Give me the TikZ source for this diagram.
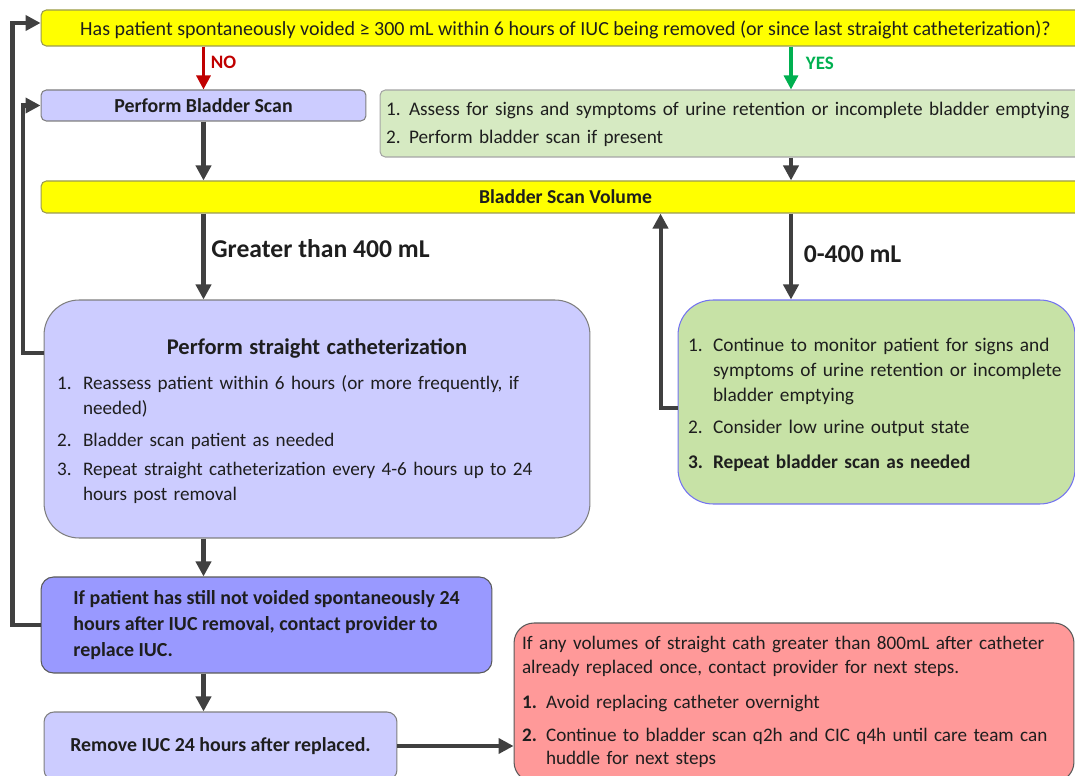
\documentclass[tikz,border=0pt]{standalone}
\usepackage{fontspec}
\setmainfont{Carlito}
\usepackage{array}
\usetikzlibrary{arrows.meta}

\definecolor{txt}{HTML}{1E1E1E}
\definecolor{qyellow}{HTML}{FFFF00}
\definecolor{qborder}{HTML}{9A9A50}
\definecolor{lav}{HTML}{CCCCFF}
\definecolor{boxgray}{HTML}{7F7F7F}
\definecolor{green1}{HTML}{D6EAC2}
\definecolor{green2}{HTML}{C7E2A6}
\definecolor{g2border}{HTML}{7373F0}
\definecolor{blue1}{HTML}{9999FF}
\definecolor{pink1}{HTML}{FF9999}
\definecolor{darkborder}{HTML}{595959}
\definecolor{flowgray}{HTML}{404040}
\definecolor{nored}{HTML}{C00000}
\definecolor{yesgreen}{HTML}{00B050}

\begin{document}
\begin{tikzpicture}[x=0.02cm, y=-0.02cm,
  every node/.style={font=\fontsize{10.9}{13}\selectfont, text=txt},
  box/.style={draw, line width=0.6pt, inner sep=0pt},
  flow/.style={draw=flowgray, line width=2.3pt, -{Triangle[length=0.3cm,width=0.3cm]}},
  answer/.style={line width=1.8pt, -{Triangle[length=0.28cm,width=0.28cm]}}]
\useasboundingbox (0,0) rectangle (1075,776);
\clip (0,0) rectangle (1075,776);

% questions
\node[box, draw=qborder, fill=qyellow, rounded corners=3pt, minimum width=20.98cm, minimum height=0.72cm, font=\fontsize{11.4}{13}\selectfont] (q) at (565.5,28)
  {\rule{0pt}{10pt}Has patient spontaneously voided ≥ 300 mL within 6 hours of IUC being removed (or since last straight catheterization)?};
\node[box, draw=boxgray, fill=lav, rounded corners=3pt, minimum width=6.5cm, minimum height=0.62cm, font=\bfseries\fontsize{11.3}{13}\selectfont] (pbs) at (203.5,105.5) {Perform Bladder Scan};
\node[box, draw=boxgray!70, fill=green1, rounded corners=3pt, minimum width=14.2cm, minimum height=1.34cm, text width=13.96cm, inner xsep=0.12cm, align=left, font=\fontsize{10.95}{13}\selectfont] (g1) at (735,123.5)
  {\begin{tabular}{@{}p{0.46cm}@{}l@{}}
   1. & \rule{0pt}{11pt}Assess for signs and symptoms of urine retention or incomplete bladder emptying\\[2.9pt]
   2. & Perform bladder scan if present
   \end{tabular}};
\node[box, draw=qborder, fill=qyellow, rounded corners=3pt, minimum width=20.98cm, minimum height=0.64cm, font=\bfseries\fontsize{11.2}{13}\selectfont] (bsv) at (565.5,197) {Bladder Scan Volume};

% results
\node[box, draw=boxgray, fill=lav, rounded corners=0.7cm, minimum width=10.92cm, minimum height=4.76cm, text width=10.4cm, inner xsep=0.26cm, align=left, font=\fontsize{10.9}{14.2}\selectfont] (psc) at (317,419)
  {\begin{tabular}{@{}p{0.52cm}@{}p{9.88cm}@{}}
   \multicolumn{2}{@{}c@{}}{\rule{0pt}{14pt}\bfseries\fontsize{12.8}{14}\selectfont Perform straight catheterization}\\[5.7pt]
   1. & Reassess patient within 6 hours (or more frequently, if\\
      & needed)\\[4.1pt]
   2. & Bladder scan patient as needed\\[2.5pt]
   3. & Repeat straight catheterization every 4-6 hours up to 24\\
      & hours post removal
   \end{tabular}};
\node[box, draw=g2border, fill=green2, rounded corners=0.7cm, minimum width=7.94cm, minimum height=4.08cm, text width=7.54cm, inner xsep=0.2cm, align=left, font=\fontsize{11}{14.2}\selectfont] (g2) at (876.5,402)
  {\begin{tabular}{@{}p{0.5cm}@{}l@{}}
   1. & \rule{0pt}{13.3pt}Continue to monitor patient for signs and\\
      & symptoms of urine retention or incomplete\\
      & bladder emptying\\[4pt]
   2. & Consider low urine output state\\[5.7pt]
   \textbf{3.} & \textbf{Repeat bladder scan as needed}
   \end{tabular}};
\node[box, draw=darkborder, fill=blue1, rounded corners=0.25cm, minimum width=9.02cm, minimum height=1.92cm, align=left, font=\bfseries\fontsize{11.35}{14.9}\selectfont] (iuc) at (266.5,625)
  {If patient has still not voided spontaneously 24\\hours after IUC removal, contact provider to\\replace IUC.};
\node[box, draw=boxgray, fill=lav, rounded corners=0.2cm, minimum width=7.06cm, minimum height=1.36cm, font=\bfseries\fontsize{11.3}{13}\selectfont] (rm) at (220.5,746) {Remove IUC 24 hours after replaced.};
\node[box, draw=darkborder, fill=pink1, rounded corners=0.4cm, minimum width=11.2cm, minimum height=3.18cm, text width=10.88cm, inner xsep=0.16cm, align=left, font=\fontsize{10.9}{13.3}\selectfont] (red) at (794,702.5)
  {\begin{tabular}{@{}p{0.48cm}@{}l@{}}
   \multicolumn{2}{@{}l@{}}{If any volumes of straight cath greater than 800mL after catheter}\\
   \multicolumn{2}{@{}l@{}}{already replaced once, contact provider for next steps.}\\[6.6pt]
   \textbf{1.} & Avoid replacing catheter overnight\\[5.5pt]
   \textbf{2.} & Continue to bladder scan q2h and CIC q4h until care team can\\
               & huddle for next steps
   \end{tabular}};

% connectors
\coordinate (ycol) at (791,0);
\coordinate (loopx) at ([xshift=-0.34cm]g2.west);
\draw[answer, draw=nored] (q.south -| pbs.south) -- (pbs.north)
  node[pos=0.36, right, text=nored, font=\bfseries\fontsize{10.8}{12}\selectfont]{NO};
\draw[answer, draw=yesgreen] (q.south -| ycol) -- (g1.north -| ycol)
  node[pos=0.39, right=0.15cm, text=yesgreen, font=\bfseries\fontsize{10.8}{12}\selectfont]{YES};
\draw[flow] (pbs.south) -- (pbs.south |- bsv.north);
\draw[flow] (g1.south -| ycol) -- (bsv.north -| ycol);
\draw[flow] (bsv.south -| pbs.south) -- (psc.north -| pbs.south)
  node[pos=0.41, right, font=\bfseries\fontsize{14.6}{16}\selectfont]{Greater than 400 mL};
\draw[flow] (bsv.south -| ycol) -- (g2.north -| ycol)
  node[pos=0.47, right=0.1cm, font=\bfseries\fontsize{14.6}{16}\selectfont]{0-400 mL};
\draw[flow] ([yshift=-0.12cm]g2.west) -| (loopx |- bsv.south);
\draw[flow] (psc.south -| pbs.south) -- (iuc.north -| pbs.south);
\draw[flow] (iuc.south -| pbs.south) -- (rm.north -| pbs.south);
\draw[flow] (rm.east) -- (rm.east -| red.west);
\draw[flow] ([yshift=1.32cm]psc.west) -- ++(-21,0) |- (pbs.west);
\draw[flow] (iuc.west) -- ++(-28,0) |- ([yshift=0.1cm]q.west);
\end{tikzpicture}
\end{document}
